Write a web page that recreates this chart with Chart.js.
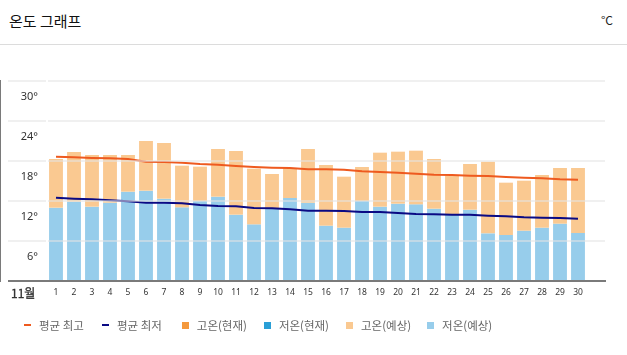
<!DOCTYPE html>
<html>
<head>
<meta charset="utf-8">
<script src="https://cdn.jsdelivr.net/npm/chart.js@4/dist/chart.umd.min.js"></script>
<style>
  html, body { margin:0; padding:0; background:#fff; }
  body { width:627px; height:355px; position:relative; overflow:hidden; font-family:"Noto Sans CJK KR","Noto Sans",sans-serif; }
  #title { position:absolute; left:9px; top:9px; font-size:15px; color:#111; line-height:24px; }
  #unit { position:absolute; right:14px; top:10px; font-size:12px; color:#222; line-height:20px; }
  #sep { position:absolute; left:0; top:44px; width:627px; height:1px; background:#dcdcdc; }
  #month { position:absolute; left:11px; top:284px; font-size:12px; font-weight:normal; color:#333; line-height:18px; -webkit-text-stroke:0.3px #333; }
  #chartWrap { position:absolute; left:0; top:0; width:627px; height:355px; }
  #legend { position:absolute; left:24px; top:316px; display:flex; font-size:11.5px; color:#666; line-height:18px; }
  .li { display:flex; align-items:center; }
  .sw { display:inline-block; margin-right:8px; }
</style>
</head>
<body>
<div id="title">온도 그래프</div>
<div id="unit">°C</div>
<div id="sep"></div>
<div id="chartWrap"><canvas id="c" width="627" height="355"></canvas></div>
<div id="month">11월</div>
<div id="legend"></div>
<script>
const days = ['1','2','3','4','5','6','7','8','9','10','11','12','13','14','15','16','17','18','19','20','21','22','23','24','25','26','27','28','29','30'];
const yTicks = [0, 6, 12, 18, 24, 30];
const avgHigh = [18.65,18.55,18.45,18.4,18.3,17.9,17.85,17.75,17.55,17.45,17.25,17.1,17.0,16.95,16.75,16.75,16.7,16.45,16.35,16.25,16.1,15.95,15.9,15.8,15.75,15.6,15.5,15.4,15.25,15.2];
const avgLow = [12.5,12.35,12.25,12.1,11.95,11.75,11.75,11.65,11.4,11.25,11.2,10.95,10.9,10.75,10.55,10.55,10.5,10.35,10.35,10.2,10.05,10.0,9.95,9.95,9.8,9.7,9.55,9.5,9.45,9.35];
const highNow = [];
const lowNow = [];
const highFc = [18.3,19.35,18.9,18.9,18.9,21.0,20.7,17.3,17.15,19.8,19.5,16.85,16.05,16.9,19.8,17.4,15.65,17.1,19.25,19.4,19.55,18.3,15.8,17.55,17.9,14.75,15.05,15.9,16.95,16.95];
const lowFc = [11.0,11.9,11.15,11.75,13.4,13.55,12.35,11.05,12.0,12.65,9.95,8.5,10.9,12.45,11.75,8.3,8.0,12.0,11.15,11.6,11.5,10.85,10.0,10.7,7.15,6.9,7.55,8.0,8.6,7.2];

const labels = days.concat(['']);
const COL = { avgHigh:'#EE5A1F', avgLow:'#0A0A84', highNow:'#F4993D', lowNow:'#2A9FD6', highFc:'#FAC991', lowFc:'#97CDEB' };

const datasets = [
  { type:'line', label:'평균 최고', data:avgHigh, borderColor:COL.avgHigh, backgroundColor:COL.avgHigh, borderWidth:2, pointRadius:0, tension:0, order:0, _kind:'line' },
  { type:'line', label:'평균 최저', data:avgLow, borderColor:COL.avgLow, backgroundColor:COL.avgLow, borderWidth:2, pointRadius:0, tension:0, order:0, _kind:'line' },
  { type:'bar', label:'고온(현재)', data:highNow.map((h,i)=>[lowNow[i],h]), backgroundColor:COL.highNow, grouped:false, order:2, _kind:'bar' },
  { type:'bar', label:'저온(현재)', data:lowNow.map(l=>[0,l]), backgroundColor:COL.lowNow, grouped:false, order:2, _kind:'bar' },
  { type:'bar', label:'고온(예상)', data:highFc.map((h,i)=>[lowFc[i],h]), backgroundColor:COL.highFc, grouped:false, order:2, _kind:'bar' },
  { type:'bar', label:'저온(예상)', data:lowFc.map(l=>[0,l]), backgroundColor:COL.lowFc, grouped:false, order:2, _kind:'bar' }
];

const chart = new Chart(document.getElementById('c'), {
  type:'bar',
  data:{ labels, datasets },
  options:{
    responsive:false,
    animation:false,
    events:[],
    layout:{ padding:{ top:81, right:22, bottom:50, left:0 } },
    datasets:{ bar:{ barPercentage:0.77, categoryPercentage:1.0 } },
    plugins:{ legend:{ display:false }, tooltip:{ enabled:false } },
    scales:{
      x:{
        grid:{ display:false, drawTicks:false },
        border:{ display:true, color:'#7a7a7a', width:2 },
        ticks:{ autoSkip:false, maxRotation:0, padding:6, color:'#333', font:{ family:'"Noto Sans","DejaVu Sans",sans-serif', size:8.5 } },
        afterFit(s){ s.height = 24; }
      },
      y:{
        min:0, max:30,
        afterBuildTicks(s){ s.ticks = yTicks.map(v=>({value:v})); },
        grid:{
          z:1,
          tickLength:39,
          color:(ctx)=> ctx.tick && ctx.tick.value === 0 ? '#7a7a7a' : 'rgba(228,228,228,0.55)',
          lineWidth:2
        },
        border:{ display:true, color:'#7a7a7a', width:2 },
        ticks:{
          padding:-30, labelOffset:16, color:'#333',
          font:{ family:'"Noto Sans","DejaVu Sans",sans-serif', size:11 },
          callback:(v)=> v === 0 ? '' : v + '°'
        },
        afterFit(s){ s.width = 47; }
      }
    }
  }
});

const lg = document.getElementById('legend');
const gaps = [18, 20, 17, 17, 16];
chart.data.datasets.forEach((d,i)=>{
  const item = document.createElement('div');
  item.className = 'li';
  if (i < gaps.length) item.style.marginRight = gaps[i] + 'px';
  const sw = document.createElement('span');
  sw.className = 'sw';
  if (d._kind === 'line') { sw.style.width='7px'; sw.style.height='2px'; }
  else { sw.style.width='7px'; sw.style.height='7px'; }
  sw.style.background = d.backgroundColor;
  item.appendChild(sw);
  const t = document.createElement('span');
  t.textContent = d.label;
  item.appendChild(t);
  lg.appendChild(item);
});
</script>
</body>
</html>
